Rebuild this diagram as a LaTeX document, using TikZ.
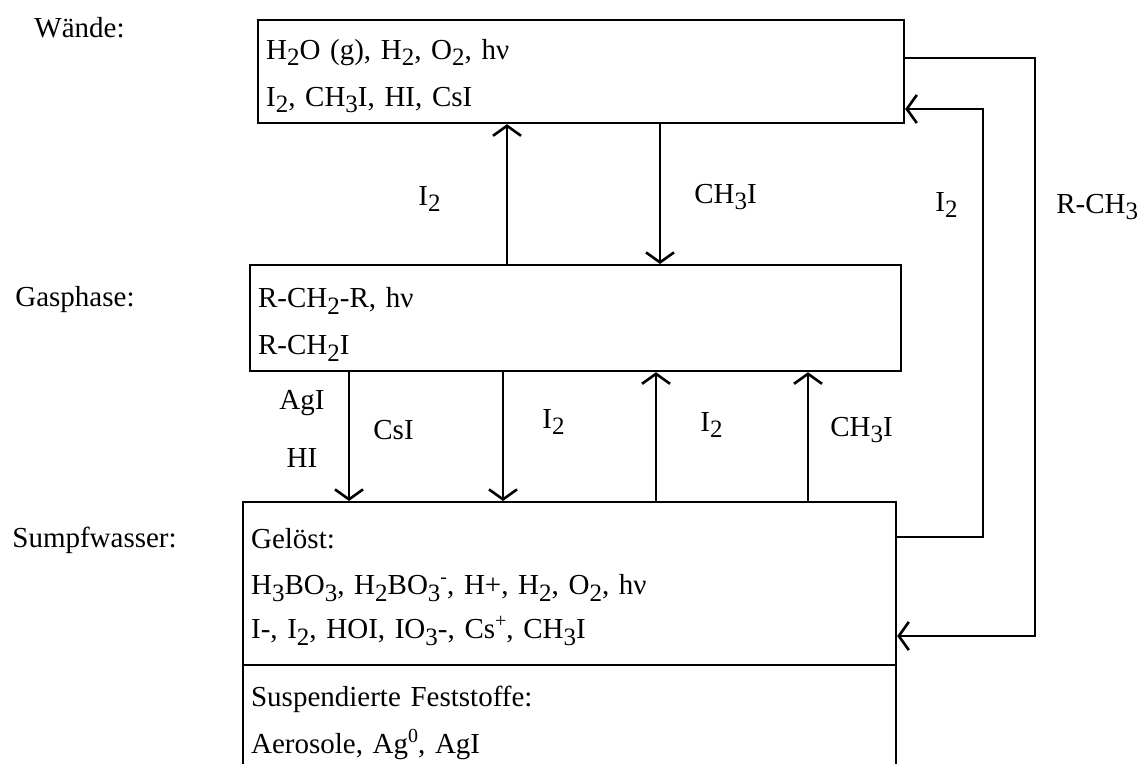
\documentclass[tikz,border=0pt]{standalone}
\usepackage{fontspec}
\setmainfont{Liberation Serif}
\usetikzlibrary{arrows.meta,positioning}

\newcommand{\tief}[1]{\raisebox{-0.5ex}{\fontsize{12.5}{12.5}\selectfont #1}}
\newcommand{\hoch}[1]{\raisebox{0.85ex}{\fontsize{10}{10}\selectfont #1}}
\newcommand{\hebe}[1]{\rule{0pt}{#1}}

\begin{document}
\begin{tikzpicture}[x=0.5pt,y=-0.5pt,>={Straight Barb[length=5pt,width=14pt,line width=1.3pt]},
  every node/.style={font=\fontsize{14.5}{23.5}\selectfont},
  kasten/.style={draw, line width=1.1pt, anchor=north west, align=left, inner xsep=4pt, inner ysep=0pt},
  pfeil/.style={->, line width=0.9pt},
  ebene/.style={anchor=west, inner sep=0pt},
  stoff/.style={anchor=west, inner sep=0pt}]
  \clip (0,0) rectangle (1142,764);

  % Ebenen
  \node[ebene] (lw) at (34,28) {Wände:};
  \node[ebene] (lg) at (15,300) {Gasphase:};
  \node[ebene] (ls) at (12,540) {Sumpfwasser:};

  % Kaesten
  \node[kasten, minimum height=51.5pt, text width=315pt] (waende) at (257,19)
    {\hebe{14.5pt}H\tief{2}O (g), H\tief{2}, O\tief{2}, hν\\I\tief{2}, CH\tief{3}I, HI, CsI};
  \node[kasten, minimum height=53pt, text width=317.5pt] (gas) at (249,264)
    {\hebe{16.5pt}R-CH\tief{2}-R, hν\\R-CH\tief{2}I};
  \node[kasten, minimum height=81.5pt, text width=318.5pt] (geloest) at (242,501)
    {\hebe{13.5pt}Gelöst:\\[-0.5pt]H\tief{3}BO\tief{3}, H\tief{2}BO\tief{3}\hoch{-}, H+, H\tief{2}, O\tief{2}, hν\\[-1.5pt]I-, I\tief{2}, HOI, IO\tief{3}-, Cs\hoch{+}, CH\tief{3}I};
  \node[kasten, minimum height=58pt, text width=318.5pt] (fest) at (242,664)
    {Suspendierte Feststoffe:\\Aerosole, Ag\hoch{0}, AgI};

  % Pfeile Waende - Gasphase
  \coordinate (o1) at (507,0);
  \coordinate (o2) at (660,0);
  \draw[pfeil] (gas.north -| o1) -- (waende.south -| o1);
  \draw[pfeil] (waende.south -| o2) -- (gas.north -| o2);
  \node[stoff] (lo1) at (418,199) {I\tief{2}};
  \node[stoff] (lo2) at (694,197) {CH\tief{3}I};

  % Pfeile Gasphase - Sumpfwasser
  \coordinate (u1) at (349,0);
  \coordinate (u2) at (503,0);
  \coordinate (u3) at (656,0);
  \coordinate (u4) at (808,0);
  \draw[pfeil] (gas.south -| u1) -- (geloest.north -| u1);
  \draw[pfeil] (gas.south -| u2) -- (geloest.north -| u2);
  \draw[pfeil] (geloest.north -| u3) -- (gas.south -| u3);
  \draw[pfeil] (geloest.north -| u4) -- (gas.south -| u4);
  \node[inner sep=0pt] (lu1) at (302,403) {AgI};
  \node[inner sep=0pt] (lu2) at (302,458) {HI};
  \node[stoff] (lu3) at (373,430) {CsI};
  \node[stoff] (lu4) at (542,422) {I\tief{2}};
  \node[stoff] (lu5) at (700,425) {I\tief{2}};
  \node[stoff] (lu6) at (830,430) {CH\tief{3}I};

  % Rueckwege rechts
  \coordinate (r1) at (1035,58);
  \coordinate (r2) at (1035,636);
  \coordinate (j1) at (983,537);
  \coordinate (j2) at (983,109);
  \draw[pfeil] (waende.east |- r1) -- (r1) -- (r2) -- (geloest.east |- r2);
  \draw[pfeil] (geloest.east |- j1) -- (j1) -- (j2) -- (waende.east |- j2);
  \node[stoff] (lr1) at (935,205) {I\tief{2}};
  \node[stoff] (lr2) at (1056,207) {R-CH\tief{3}};
\end{tikzpicture}
\end{document}
